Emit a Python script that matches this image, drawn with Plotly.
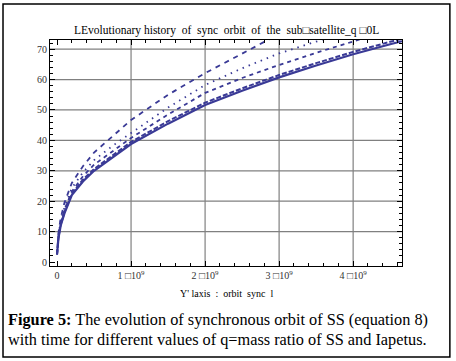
import plotly.graph_objects as go

# ---- data (time in units of 1e9, orbit value) ----
t_gyr = [0.0, 0.005, 0.02, 0.05, 0.1, 0.2, 0.35, 0.5, 0.75, 1.0, 1.5, 2.0, 2.5, 3.0, 3.5, 4.0, 4.5, 4.66]
orbit_a = [2.5, 5.0, 8.0, 12.0, 16.0, 22.0, 26.5, 30.0, 34.5, 38.8, 45.5, 51.6, 56.3, 60.7, 64.6, 68.3, 71.6, 72.6]
orbit_a2 = [2.5, 5.1, 8.2, 12.3, 16.4, 22.5, 27.1, 30.6, 35.2, 39.5, 46.3, 52.4, 57.1, 61.5, 65.4, 69.1, 72.4, 73.4]

t_d = [0.0, 0.005, 0.02, 0.05, 0.1, 0.2, 0.35, 0.5, 0.75, 1.0, 1.5, 2.0, 2.5, 3.0, 3.5, 4.0, 4.2]
orbit_d = [2.5, 5.2, 8.5, 12.8, 17.2, 23.2, 28.2, 32.0, 36.5, 40.8, 48.5, 55.6, 60.5, 64.8, 68.8, 72.5, 74.0]

t_c = [0.0, 0.005, 0.02, 0.05, 0.1, 0.2, 0.35, 0.5, 0.75, 1.0, 1.5, 2.0, 2.5, 3.0, 3.5, 3.7]
orbit_c = [2.5, 5.4, 9.0, 13.5, 18.0, 24.3, 29.5, 33.5, 38.2, 42.4, 50.8, 58.2, 63.7, 68.6, 72.5, 74.0]

t_b = [0.0, 0.005, 0.02, 0.05, 0.1, 0.2, 0.35, 0.5, 0.75, 1.0, 1.5, 2.0, 2.5, 2.8, 3.0]
orbit_b = [2.5, 5.8, 9.8, 14.5, 19.5, 26.0, 31.5, 36.0, 41.5, 46.7, 55.0, 62.1, 68.5, 72.5, 75.0]

x_tick_vals = [0, 1, 2, 3, 4]
x_tick_text = ["0", "1 \u25a110<sup>9</sup>", "2 \u25a110<sup>9</sup>", "3 \u25a110<sup>9</sup>", "4 \u25a110<sup>9</sup>"]
y_tick_vals = [0, 10, 20, 30, 40, 50, 60, 70]
x_grid = [1, 2, 3, 4]
y_grid = [10, 20, 30, 40, 50, 60, 70]

title_text = "L<span>Evolutionary history  of  sync  orbit  of  the  sub\u25a1satellite_q \u25a10</span>L"
xaxis_title = "Y' laxis  :  orbit  sync  l"
caption_1 = "<b>Figure 5:</b> The evolution of synchronous orbit of SS (equation 8)"
caption_2 = "with time for different values of q=mass ratio of SS and Iapetus."

COLOR = "rgb(58,58,150)"
SERIF = "Liberation Serif, Times New Roman, serif"

fig = go.Figure()

def gyr(v):
    return [x * 1e9 for x in v]

fig.add_trace(go.Scatter(x=gyr(t_b), y=orbit_b, mode="lines",
                         line=dict(color=COLOR, width=1.8, dash="5px,5px")))
fig.add_trace(go.Scatter(x=gyr(t_c), y=orbit_c, mode="lines",
                         line=dict(color=COLOR, width=1.8, dash="1.5px,5px")))
fig.add_trace(go.Scatter(x=gyr(t_d), y=orbit_d, mode="lines",
                         line=dict(color=COLOR, width=1.8, dash="4px,4px")))
fig.add_trace(go.Scatter(x=gyr(t_gyr), y=orbit_a2, mode="lines",
                         line=dict(color=COLOR, width=2, dash="5px,2px")))
fig.add_trace(go.Scatter(x=gyr(t_gyr), y=orbit_a, mode="lines",
                         line=dict(color=COLOR, width=2.2)))

shapes = []
for g in x_grid:
    shapes.append(dict(type="line", xref="x", yref="paper", x0=g * 1e9, x1=g * 1e9, y0=0, y1=1,
                       line=dict(color="rgb(128,128,128)", width=1.2), layer="below"))
for g in y_grid:
    shapes.append(dict(type="line", xref="paper", yref="y", x0=0, x1=1, y0=g, y1=g,
                       line=dict(color="rgb(128,128,128)", width=1.2), layer="below"))
# outer figure frame
shapes.append(dict(type="rect", xref="paper", yref="paper", x0=-0.1335, x1=1.136, y0=-0.4027, y1=1.159,
                   line=dict(color="black", width=1.5), fillcolor="rgba(0,0,0,0)"))
fig.update_layout(shapes=shapes)

fig.update_layout(
    width=456, height=361,
    margin=dict(l=50, r=54, t=40, b=95),
    paper_bgcolor="white", plot_bgcolor="white",
    showlegend=False,
    font=dict(family=SERIF, size=11, color="black"),
)

fig.update_xaxes(
    range=[-0.095e9, 4.66e9],
    tickvals=[v * 1e9 for v in x_tick_vals], ticktext=x_tick_text,
    showgrid=False, zeroline=False,
    showline=True, linecolor="black", linewidth=1, mirror="ticks",
    ticks="inside", ticklen=5, tickcolor="black",
    minor=dict(dtick=0.2e9, tick0=0, ticks="inside", ticklen=3, tickcolor="black", showgrid=False),
    tickfont=dict(family=SERIF, size=10, color="#333"),
)
fig.update_yaxes(
    range=[-1.3, 73.0],
    tickvals=y_tick_vals,
    showgrid=False, zeroline=False,
    showline=True, linecolor="black", linewidth=1, mirror="ticks",
    ticks="inside", ticklen=5, tickcolor="black",
    minor=dict(dtick=2, tick0=0, ticks="inside", ticklen=3, tickcolor="black", showgrid=False),
    tickfont=dict(family=SERIF, size=10, color="#333"),
)

annotations = [
    dict(text=title_text, xref="paper", yref="paper", x=0.5, y=1.0, yshift=1, showarrow=False,
         font=dict(family=SERIF, size=11.5, color="black"), xanchor="center", yanchor="bottom"),
    dict(text=xaxis_title, xref="paper", yref="paper", x=0.5, y=0, yshift=-27, showarrow=False,
         font=dict(family=SERIF, size=10, color="black"), xanchor="center", yanchor="middle"),
    dict(text=caption_1, xref="paper", yref="paper", x=-0.125, y=0, yshift=-53, showarrow=False,
         font=dict(family=SERIF, size=16.3, color="black"), xanchor="left", yanchor="middle"),
    dict(text=caption_2, xref="paper", yref="paper", x=-0.125, y=0, yshift=-73, showarrow=False,
         font=dict(family=SERIF, size=16.3, color="black"), xanchor="left", yanchor="middle"),
]
fig.update_layout(annotations=annotations)

fig.write_html("out.html", config={"displayModeBar": False},
               post_script="document.body.style.margin='0';document.body.style.padding='0';")
